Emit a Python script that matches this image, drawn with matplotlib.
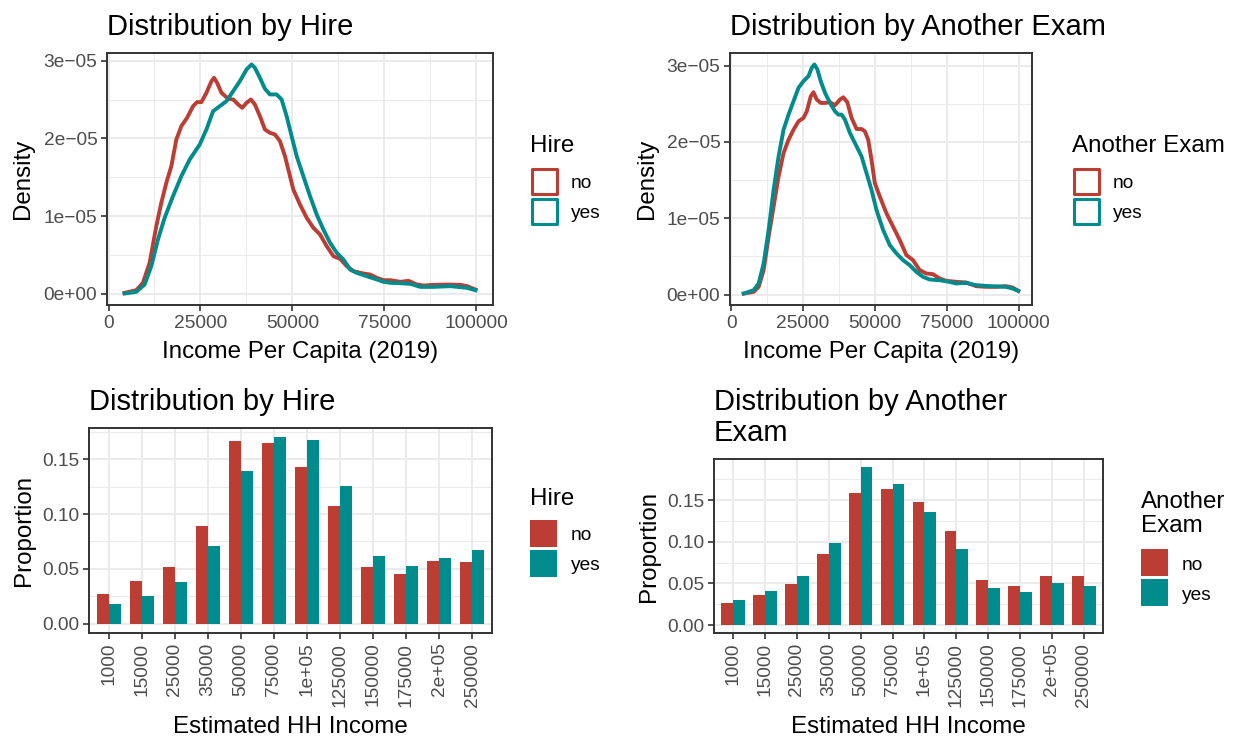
import matplotlib
matplotlib.use("Agg")
import matplotlib.pyplot as plt
from matplotlib.patches import Rectangle
from matplotlib.ticker import FuncFormatter, MultipleLocator
import numpy as np

plt.rcParams['font.family'] = ['Liberation Sans', 'DejaVu Sans']

W, H = 1238, 740
RED = '#BC3D33'
TEAL = '#008B8D'
GRID = '#EBEBEB'
DARK = '#333333'
TICK_TEXT = '#4D4D4D'

# income per capita densities (x in dollars, y in units of 1e-05)
hire_no_x = [4360, 7540, 9360, 11170, 12990, 14350, 15710, 17080, 18440, 19800, 21350, 22980, 24070, 25250,
             26610, 27980, 28700, 29520, 30700, 32520, 33880, 35240, 36330, 37510, 38690, 39780, 41150, 42510,
             43870, 45230, 46600, 47960, 49320, 50230, 52040, 53860, 55680, 57490, 59310, 61130, 62940, 64760,
             66580, 69300, 71120, 72930, 74750, 76570, 79290, 81560, 83830, 85650, 88380, 92010, 95640, 97460, 99730]
hire_no_y = [0.013, 0.047, 0.142, 0.399, 0.871, 1.172, 1.429, 1.644, 1.987, 2.159, 2.266, 2.416, 2.468, 2.468,
             2.588, 2.738, 2.781, 2.717, 2.588, 2.511, 2.502, 2.438, 2.395, 2.459, 2.502, 2.438, 2.288, 2.116,
             2.073, 2.052, 1.966, 1.773, 1.515, 1.343, 1.150, 0.979, 0.850, 0.764, 0.614, 0.485, 0.451, 0.356,
             0.292, 0.262, 0.249, 0.206, 0.176, 0.176, 0.155, 0.167, 0.120, 0.107, 0.116, 0.120, 0.116, 0.099, 0.056]

hire_yes_x = [4360, 7540, 9810, 11630, 13440, 15260, 17530, 19800, 22070, 24800, 26610, 28430, 30250, 32060,
              33880, 35700, 37510, 38880, 39780, 41150, 42510, 43870, 45690, 47050, 48410, 49770, 51140, 52950,
              54770, 56590, 58400, 60220, 62040, 63850, 65670, 67480, 70210, 72930, 74750, 76570, 79290, 82020,
              84740, 88380, 92920, 97460, 99730]
hire_yes_y = [0.004, 0.026, 0.120, 0.356, 0.700, 0.979, 1.258, 1.515, 1.730, 1.923, 2.116, 2.352, 2.416, 2.481,
              2.609, 2.738, 2.888, 2.953, 2.910, 2.781, 2.640, 2.567, 2.567, 2.502, 2.288, 2.030, 1.773, 1.515,
              1.258, 1.021, 0.828, 0.657, 0.528, 0.442, 0.313, 0.270, 0.227, 0.185, 0.155, 0.142, 0.137, 0.129,
              0.090, 0.090, 0.099, 0.077, 0.047]

exam_no_x = [4390, 7850, 9580, 11320, 13050, 14780, 16510, 18240, 19980, 21710, 23440, 25170, 26330, 27710,
             28640, 29790, 31180, 32680, 34410, 36140, 37870, 39030, 40420, 41920, 43650, 45380, 46530, 47690,
             48840, 50000, 51730, 54040, 56350, 58660, 60970, 63280, 65590, 67900, 70210, 72520, 74830, 78290,
             81750, 85220, 88680, 92150, 95610, 97920, 99900]
exam_no_y = [0.013, 0.035, 0.101, 0.320, 0.758, 1.152, 1.546, 1.853, 2.028, 2.159, 2.269, 2.313, 2.400, 2.597,
             2.650, 2.554, 2.510, 2.510, 2.520, 2.480, 2.554, 2.584, 2.520, 2.313, 2.168, 2.168, 2.138, 2.028,
             1.765, 1.459, 1.283, 1.064, 0.889, 0.714, 0.517, 0.451, 0.320, 0.276, 0.267, 0.210, 0.180, 0.166,
             0.158, 0.110, 0.101, 0.101, 0.110, 0.092, 0.048]

exam_yes_x = [4390, 7850, 9580, 11320, 13050, 14780, 16510, 18240, 19980, 21710, 23440, 25170, 26900, 28060,
              28980, 30020, 31180, 32680, 34410, 36140, 37300, 38450, 39610, 41340, 43650, 45380, 47110, 48840,
              50580, 52890, 55200, 57500, 59810, 62120, 64430, 66740, 69050, 72520, 75980, 78290, 81750, 85220,
              89840, 95610, 97920, 99900]
exam_yes_y = [0.013, 0.057, 0.145, 0.407, 0.845, 1.371, 1.809, 2.159, 2.357, 2.532, 2.707, 2.795, 2.860, 2.970,
              3.014, 2.948, 2.795, 2.641, 2.510, 2.400, 2.357, 2.357, 2.291, 2.116, 1.941, 1.809, 1.590, 1.371,
              1.108, 0.845, 0.648, 0.539, 0.451, 0.385, 0.298, 0.232, 0.197, 0.188, 0.166, 0.145, 0.153, 0.123,
              0.110, 0.101, 0.079, 0.048]

# estimated household income brackets
income_levels = ['1000', '15000', '25000', '35000', '50000', '75000', '1e+05',
                 '125000', '150000', '175000', '2e+05', '250000']
hire_no_prop = [0.027, 0.039, 0.052, 0.089, 0.167, 0.165, 0.143, 0.107, 0.052, 0.045, 0.057, 0.056]
hire_yes_prop = [0.018, 0.025, 0.038, 0.071, 0.139, 0.170, 0.168, 0.126, 0.062, 0.053, 0.060, 0.067]
exam_no_prop = [0.026, 0.036, 0.049, 0.085, 0.159, 0.164, 0.148, 0.113, 0.054, 0.047, 0.059, 0.059]
exam_yes_prop = [0.030, 0.041, 0.059, 0.099, 0.190, 0.170, 0.136, 0.091, 0.045, 0.040, 0.051, 0.047]

TITLE_FS = 21
AXIS_FS = 17.4
TEXT_FS = 13.8


def fx(x):
    return x / W


def fy(y):
    return 1 - y / H


def panel(fig, left, top, right, bottom):
    ax = fig.add_axes([fx(left), fy(bottom), (right - left) / W, (bottom - top) / H])
    ax.set_facecolor('white')
    for s in ax.spines.values():
        s.set_color(DARK)
        s.set_linewidth(1.4)
    ax.set_axisbelow(True)
    ax.grid(True, which='major', color=GRID, linewidth=1.5)
    ax.grid(True, which='minor', color=GRID, linewidth=0.75)
    ax.tick_params(which='major', length=4, width=1.2, color=DARK, labelsize=TEXT_FS,
                   labelcolor=TICK_TEXT, pad=3)
    ax.tick_params(which='minor', length=0)
    return ax


def sci(v, _):
    if abs(v) < 1e-12:
        return '0e+00'
    return f'{v:.0e}'.replace('-', '\u2212')


def density_panel(ax, title, no_x, no_y, yes_x, yes_y):
    ax.plot(no_x, np.array(no_y) * 1e-5, color=RED, lw=2.8, solid_joinstyle='round')
    ax.plot(yes_x, np.array(yes_y) * 1e-5, color=TEAL, lw=2.8, solid_joinstyle='round')
    ax.margins(x=0.05, y=0.05)
    ax.xaxis.set_major_locator(MultipleLocator(25000))
    ax.xaxis.set_minor_locator(MultipleLocator(12500))
    ax.yaxis.set_major_locator(MultipleLocator(1e-5))
    ax.yaxis.set_minor_locator(MultipleLocator(0.5e-5))
    ax.xaxis.set_major_formatter(FuncFormatter(lambda v, _: f'{v:.0f}'))
    ax.yaxis.set_major_formatter(FuncFormatter(sci))
    ax.set_xlabel('Income Per Capita (2019)', fontsize=AXIS_FS, labelpad=7)
    ax.set_ylabel('Density', fontsize=AXIS_FS, labelpad=6.5)
    ax.set_title(title, loc='left', fontsize=TITLE_FS, pad=13)


def bar_panel(ax, title, no_prop, yes_prop):
    pos = np.arange(len(income_levels))
    w = 0.37
    ax.bar(pos - w / 2, no_prop, width=w, color=RED, linewidth=0)
    ax.bar(pos + w / 2, yes_prop, width=w, color=TEAL, linewidth=0)
    ax.use_sticky_edges = False
    ax.margins(y=0.05)
    ax.set_xlim(-0.6, len(income_levels) - 0.4)
    ax.set_xticks(pos)
    ax.set_xticklabels(income_levels, rotation=90)
    ax.yaxis.set_major_locator(MultipleLocator(0.05))
    ax.yaxis.set_minor_locator(MultipleLocator(0.025))
    ax.yaxis.set_major_formatter(FuncFormatter(lambda v, _: f'{v:.2f}'))
    ax.set_xlabel('Estimated HH Income', fontsize=AXIS_FS, labelpad=7)
    ax.set_ylabel('Proportion', fontsize=AXIS_FS, labelpad=5)
    ax.set_title(title, loc='left', fontsize=TITLE_FS, pad=13, linespacing=1.12)


def legend(fig, left, title_base, title, key_tops, filled):
    # title_base is the baseline of the last title line
    fig.text(fx(left), fy(title_base), title, fontsize=AXIS_FS, va='baseline', ha='left',
             linespacing=1.1)
    for top, color, label in zip(key_tops, [RED, TEAL], ['no', 'yes']):
        if filled:
            r = Rectangle((fx(left), fy(top + 27)), 27 / W, 27 / H, transform=fig.transFigure,
                          facecolor=color, edgecolor='none')
        else:
            r = Rectangle((fx(left + 1.5), fy(top + 26)), 25 / W, 25 / H, transform=fig.transFigure,
                          facecolor='none', edgecolor=color, linewidth=2.2, joinstyle='round')
        fig.patches.append(r)
        fig.text(fx(left + 41), fy(top + 16), label, fontsize=TEXT_FS, va='center', ha='left')


fig = plt.figure(figsize=(W / 100, H / 100), dpi=100)

ax1 = panel(fig, 107, 53, 493, 305)
density_panel(ax1, 'Distribution by Hire', hire_no_x, hire_no_y, hire_yes_x, hire_yes_y)
legend(fig, 530, 152, 'Hire', [168, 198], filled=False)

ax2 = panel(fig, 730, 53, 1032, 305)
density_panel(ax2, 'Distribution by Another Exam', exam_no_x, exam_no_y, exam_yes_x, exam_yes_y)
legend(fig, 1072, 152, 'Another Exam', [168, 198], filled=False)

ax3 = panel(fig, 89, 428, 492, 633)
bar_panel(ax3, 'Distribution by Hire', hire_no_prop, hire_yes_prop)
legend(fig, 530, 505, 'Hire', [520, 550], filled=True)

ax4 = panel(fig, 714, 459, 1103, 633)
bar_panel(ax4, 'Distribution by Another\nExam', exam_no_prop, exam_yes_prop)
legend(fig, 1141, 532, 'Another\nExam', [549, 579], filled=True)

fig.savefig('out.png', dpi=100, facecolor='white')
